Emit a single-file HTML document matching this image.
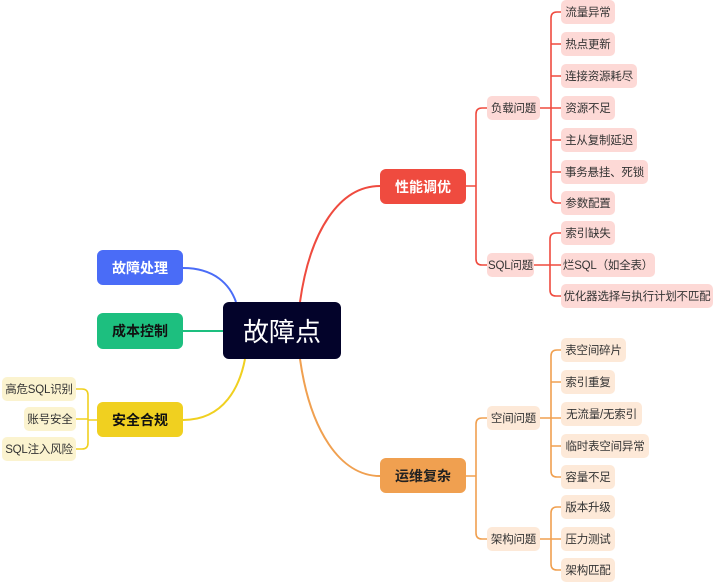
<!DOCTYPE html>
<html><head><meta charset="utf-8"><style>
body{margin:0;width:720px;height:583px;background:#fff;position:relative;overflow:hidden;font-family:"Liberation Sans","Noto Sans CJK SC",sans-serif}
.n{position:absolute;display:flex;align-items:center;justify-content:center;border-radius:5px;white-space:nowrap;box-sizing:border-box}
.m{font-size:14px;font-weight:bold;border-radius:6px}
.l{font-size:11.5px;color:#333;height:24px;border-radius:5px;letter-spacing:-0.2px}
.r{background:#fdd9d6}.o{background:#fde9d8}.y{background:#fbf3cf}
svg{position:absolute;left:0;top:0}
</style></head><body>
<svg width="720" height="583" fill="none" stroke-width="2">
<path d="M300 302 C310 230 340 186 380 186" stroke="#ef4b3f"/>
<path d="M300 359 C310 430 340 476 380 476" stroke="#f0a050"/>
<path d="M183 268 C215 268 230 285 236 302" stroke="#4a6cf7"/>
<path d="M183 331 L223 331" stroke="#1dbf7f"/>
<path d="M183 420 C225 420 240 385 245 359" stroke="#f0d020"/>
<g stroke="#ef4b3f" stroke-width="1.6">
<path d="M466 186 H476 M487 108 H482 Q476 108 476 114 V259 Q476 265 482 265 H487"/>
<path d="M540 108 H561 M561 12 H557 Q551 12 551 18 V197 Q551 203 557 203 H561 M551 44 H561 M551 76 H561 M551 140 H561 M551 172 H561"/>
<path d="M534 265 H561 M561 233 H556 Q550 233 550 239 V290 Q550 296 556 296 H561"/>
</g>
<g stroke="#f0a050" stroke-width="1.6">
<path d="M466 476 H476 M487 418 H482 Q476 418 476 424 V533 Q476 539 482 539 H487"/>
<path d="M540 418 H561 M561 350 H557 Q551 350 551 356 V471 Q551 477 557 477 H561 M551 382 H561 M551 446 H561"/>
<path d="M540 539 H561 M561 507 H557 Q551 507 551 513 V564 Q551 570 557 570 H561"/>
</g>
<g stroke="#f0d020" stroke-width="1.6">
<path d="M97 420 H88 M76 389 H82 Q88 389 88 395 V443 Q88 449 82 449 H76 M76 419 H88"/>
</g>
</svg>
<div class="n" style="left:223px;top:302px;width:118px;height:57px;background:#03032a;color:#fff;font-size:26px;border-radius:6px">故障点</div>
<div class="n m" style="left:97px;top:250px;width:86px;height:35px;background:#4a6cf7;color:#fff">故障处理</div>
<div class="n m" style="left:97px;top:313px;width:86px;height:36px;background:#1dbf7f;color:#111">成本控制</div>
<div class="n m" style="left:97px;top:402px;width:86px;height:35px;background:#f0d020;color:#111">安全合规</div>
<div class="n m" style="left:380px;top:169px;width:86px;height:35px;background:#ef4b3f;color:#fff">性能调优</div>
<div class="n m" style="left:380px;top:458px;width:86px;height:35px;background:#f0a050;color:#222">运维复杂</div>
<div class="n l y" style="left:2px;width:74px;top:377px">高危SQL识别</div>
<div class="n l y" style="left:24px;width:52px;top:407px">账号安全</div>
<div class="n l y" style="left:2px;width:74px;top:437px">SQL注入风险</div>
<div class="n l r" style="left:487px;width:53px;top:96px">负载问题</div>
<div class="n l r" style="left:487px;width:47px;top:253px">SQL问题</div>
<div class="n l r" style="left:561px;width:54px;top:0px">流量异常</div>
<div class="n l r" style="left:561px;width:54px;top:32px">热点更新</div>
<div class="n l r" style="left:561px;width:76px;top:64px">连接资源耗尽</div>
<div class="n l r" style="left:561px;width:54px;top:96px">资源不足</div>
<div class="n l r" style="left:561px;width:76px;top:128px">主从复制延迟</div>
<div class="n l r" style="left:561px;width:87px;top:160px">事务悬挂、死锁</div>
<div class="n l r" style="left:561px;width:54px;top:191px">参数配置</div>
<div class="n l r" style="left:561px;width:54px;top:221px">索引缺失</div>
<div class="n l r" style="left:561px;width:94px;top:253px">烂SQL（如全表）</div>
<div class="n l r" style="left:561px;width:152px;top:284px">优化器选择与执行计划不匹配</div>
<div class="n l o" style="left:487px;width:53px;top:406px">空间问题</div>
<div class="n l o" style="left:487px;width:53px;top:527px">架构问题</div>
<div class="n l o" style="left:561px;width:65px;top:338px">表空间碎片</div>
<div class="n l o" style="left:561px;width:54px;top:370px">索引重复</div>
<div class="n l o" style="left:561px;width:81px;top:402px">无流量/无索引</div>
<div class="n l o" style="left:561px;width:88px;top:434px">临时表空间异常</div>
<div class="n l o" style="left:561px;width:54px;top:465px">容量不足</div>
<div class="n l o" style="left:561px;width:54px;top:495px">版本升级</div>
<div class="n l o" style="left:561px;width:54px;top:527px">压力测试</div>
<div class="n l o" style="left:561px;width:54px;top:558px">架构匹配</div>
</body></html>
